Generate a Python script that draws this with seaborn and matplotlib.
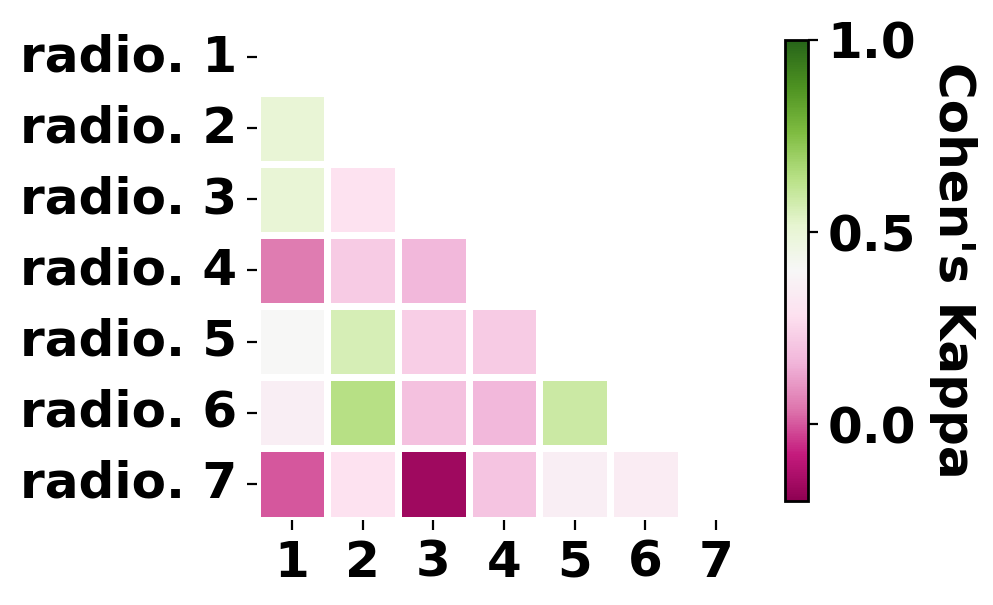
import numpy as np
import pandas as pd
import matplotlib
matplotlib.use('Agg')
import matplotlib.pyplot as plt
import seaborn as sns

# raters and pairwise Cohen's kappa (lower triangle)
raters = ['radio. 1', 'radio. 2', 'radio. 3', 'radio. 4', 'radio. 5', 'radio. 6', 'radio. 7']
col_labels = ['1', '2', '3', '4', '5', '6', '7']

row2 = [0.50]
row3 = [0.50, 0.29]
row4 = [0.05, 0.22, 0.17]
row5 = [0.40, 0.56, 0.23, 0.22]
row6 = [0.35, 0.64, 0.19, 0.17, 0.59]
row7 = [0.00, 0.29, -0.16, 0.20, 0.35, 0.34]

lower_rows = [row2, row3, row4, row5, row6, row7]

kappa = np.full((7, 7), np.nan)
for i, vals in enumerate(lower_rows, start=1):
    kappa[i, :len(vals)] = vals

df = pd.DataFrame(kappa, index=raters, columns=col_labels)
mask = np.triu(np.ones_like(kappa, dtype=bool))  # hide diagonal + upper part

fig = plt.figure(figsize=(4.965, 3.025), dpi=200)
ax = fig.add_axes([0.2584, 0.1413, 0.4983, 0.8232])
cax = fig.add_axes([0.7905, 0.172, 0.0232, 0.762])

sns.heatmap(
    df,
    mask=mask,
    cmap='PiYG',
    vmin=-0.2,
    vmax=1.0,
    linewidths=2.5,
    linecolor='white',
    ax=ax,
    cbar_ax=cax,
)

ax.tick_params(axis='both', length=3.5, width=0.8)
ax.set_xticklabels(col_labels, fontsize=18, fontweight='bold', rotation=0)
ax.set_yticklabels(raters, fontsize=18, fontweight='bold', rotation=0)
ax.set_xlabel('')
ax.set_ylabel('')

cbar = ax.collections[0].colorbar
cbar.set_ticks([0.0, 0.5, 1.0])
cbar.ax.tick_params(length=3.5, width=0.8)
for t in cbar.ax.get_yticklabels():
    t.set_fontsize(18)
    t.set_fontweight('bold')
cbar.outline.set_visible(True)
cbar.outline.set_edgecolor('black')
cbar.outline.set_linewidth(1.0)
cbar.set_label("Cohen's Kappa", rotation=270, fontsize=18, fontweight='bold', labelpad=22)

fig.savefig('out.png', dpi=200)
